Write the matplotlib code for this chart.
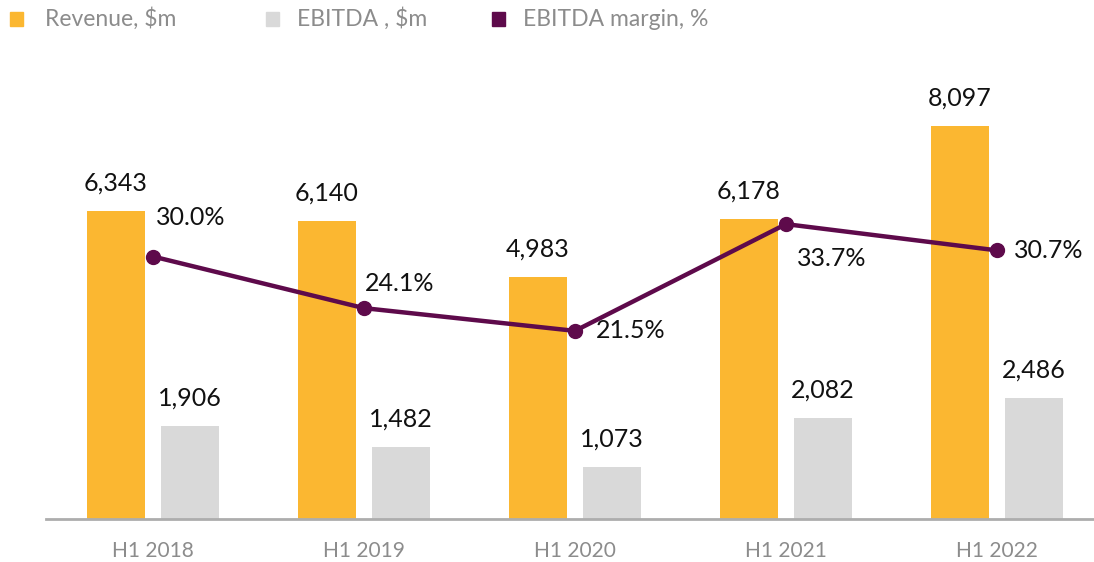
import matplotlib
matplotlib.use("Agg")
import matplotlib.pyplot as plt
from matplotlib.patches import Rectangle
import numpy as np

categories = ["H1 2018", "H1 2019", "H1 2020", "H1 2021", "H1 2022"]
revenue = [6343, 6140, 4983, 6178, 8097]
ebitda = [1906, 1482, 1073, 2082, 2486]
margin = [30.0, 24.1, 21.5, 33.7, 30.7]
legend_labels = ["Revenue, $m", "EBITDA , $m", "EBITDA margin, %"]

# label offsets for margin labels (points): (dx, dy, ha, va)
margin_label_style = [(2, 28, "left", "center"), (1, 18, "left", "center"),
                      (15, 0, "left", "center"), (8, -25, "left", "center"),
                      (12, 0, "left", "center")]

ORANGE = "#FBB731"
GREY = "#D9D9D9"
PURPLE = "#5E0A4B"
TXT_GREY = "#8C8C8C"

plt.rcParams['font.family'] = ['Lato', 'DejaVu Sans']

fig = plt.figure(figsize=(10.94, 5.62), dpi=100)
H = 562.0
W = 1094.0
ax = fig.add_axes([46 / W, (H - 519) / H, 1 - 46 / W, (519 - 40) / H])
ax2 = ax.twinx()

x = np.arange(len(categories))
bw = 0.275
off = 0.175
ax.bar(x - off, revenue, width=bw, color=ORANGE, zorder=2)
ax.bar(x + off, ebitda, width=bw, color=GREY, zorder=2)

for xi, v in zip(x, revenue):
    ax.annotate(f"{v:,}", (xi - off, v), xytext=(0, 12), textcoords="offset points",
                ha="center", va="bottom", fontsize=18, color="#111111")
for xi, v in zip(x, ebitda):
    ax.annotate(f"{v:,}", (xi + off, v), xytext=(0, 12), textcoords="offset points",
                ha="center", va="bottom", fontsize=18, color="#111111")

ax2.plot(x, margin, color=PURPLE, lw=3.2, marker="o", markersize=10, zorder=3)
for xi, m, (dx, dy, ha, va) in zip(x, margin, margin_label_style):
    ax2.annotate(f"{m:.1f}%", (xi, m), xytext=(dx, dy), textcoords="offset points",
                 ha=ha, va=va, fontsize=18, color="#111111")

ax.set_xlim(-0.507, 4.46)
ax.set_ylim(0, 479 / 0.04856)
ax2.set_ylim(0, 479 / 8.75)

for a in (ax, ax2):
    for s in ["top", "right", "left"]:
        a.spines[s].set_visible(False)
    a.set_yticks([])
ax2.spines["bottom"].set_visible(False)
ax.spines["bottom"].set_color("#ADADAD")
ax.spines["bottom"].set_linewidth(2)
ax.set_xticks(x)
ax.set_xticklabels(categories, fontsize=15, color=TXT_GREY)
ax.tick_params(axis="x", length=0, pad=16)

# legend drawn in figure pixel coordinates
sq_x = [10, 266, 492]
txt_x = [45, 297, 523]
for sx, tx, col, lab in zip(sq_x, txt_x, [ORANGE, GREY, PURPLE], legend_labels):
    fig.patches.append(Rectangle((sx / W, (H - 26) / H), 13 / W, 14 / H,
                                 transform=fig.transFigure, color=col))
    fig.text(tx / W, (H - 19) / H, lab, fontsize=16.5, color=TXT_GREY,
             ha="left", va="center")

fig.savefig("out.png", dpi=100)
